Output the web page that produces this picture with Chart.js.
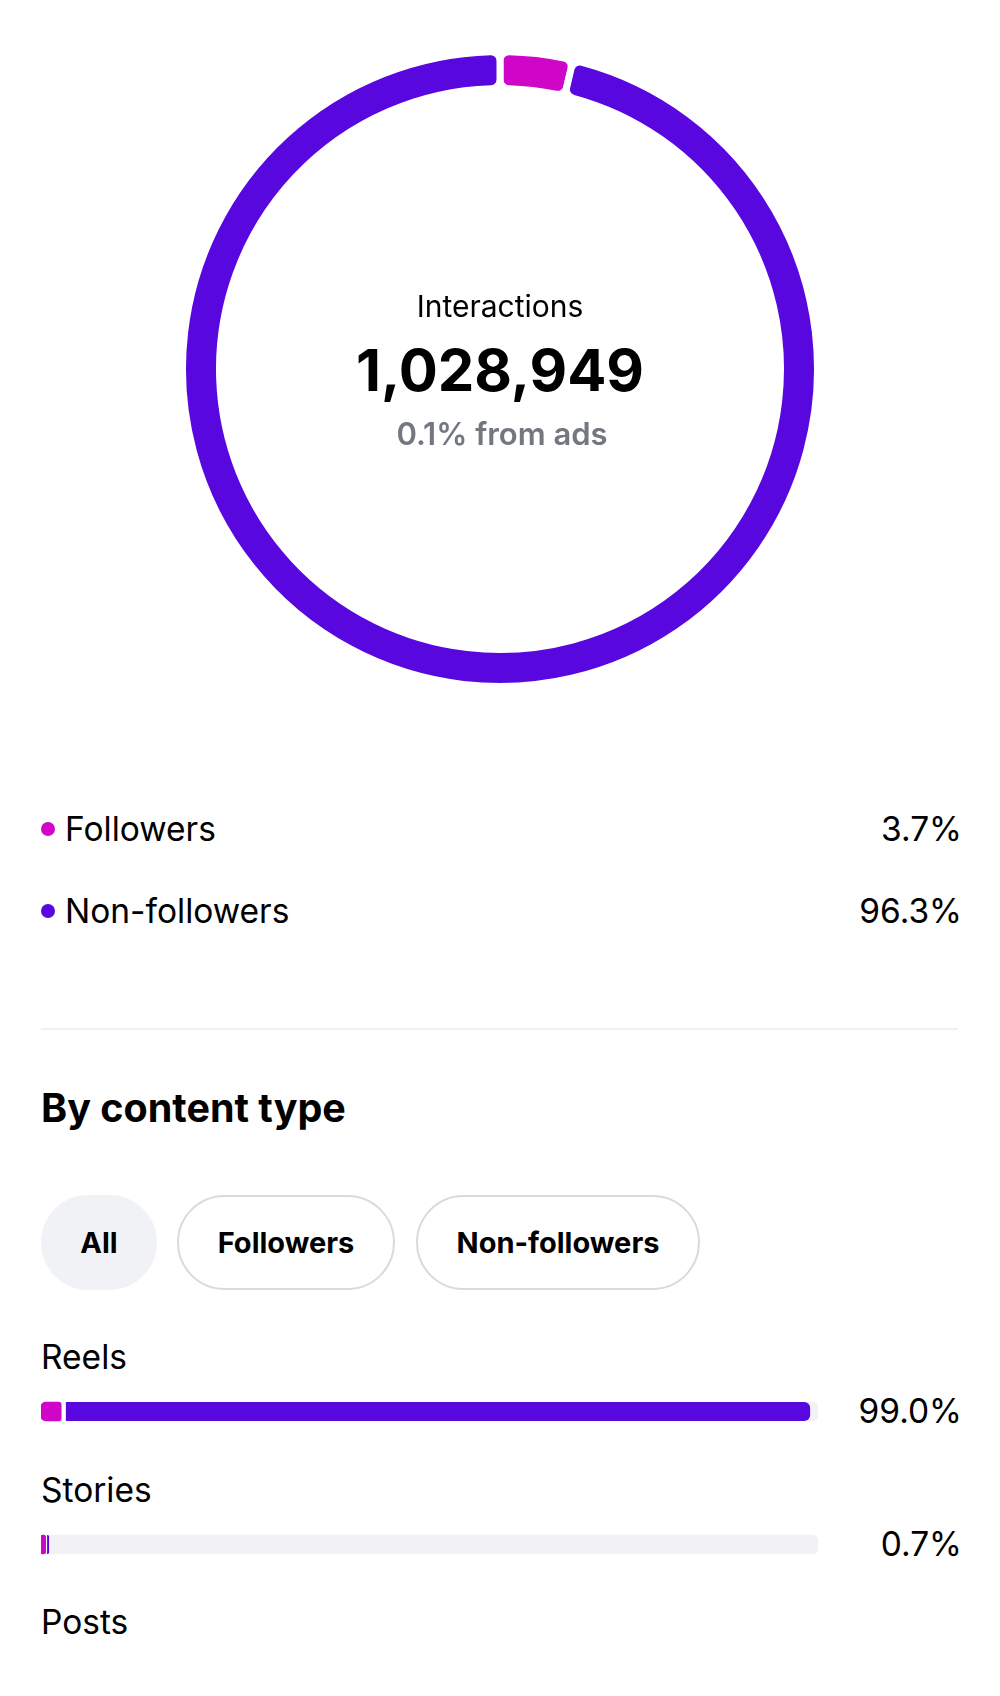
<!DOCTYPE html>
<html>
<head>
<meta charset="utf-8">
<script src="https://cdn.jsdelivr.net/npm/chart.js@4.4.1/dist/chart.umd.min.js"></script>
<style>
  html, body { margin:0; padding:0; background:#fff; }
  body { width:1000px; height:1696px; position:relative; overflow:hidden; font-family:Inter, "Noto Sans", sans-serif; color:#000; }
  .abs { position:absolute; white-space:nowrap; transform:translateY(-50%); }
  .center { left:0; width:1000px; text-align:center; }
  #donut { position:absolute; left:179px; top:48px; }
  #bars { position:absolute; left:41px; top:1345px; }
  .dot { position:absolute; width:14px; height:14px; border-radius:50%; transform:translate(-50%,-50%); }
  .row { font-size:33.5px; }
  .val { right:38px; text-align:right; }
  .divider { position:absolute; left:41px; width:917px; top:1028px; height:2px; background:#f0f0f0; }
  .pill { position:absolute; top:1195px; height:91px; border:2px solid #dadada; border-radius:48px; box-sizing:content-box;
          display:flex; align-items:center; justify-content:center; font-weight:700; font-size:29px; }
  .pill.on { border-color:#f1f2f5; background:#f1f2f5; }
</style>
</head>
<body>
<canvas id="donut" width="642" height="642"></canvas>

<div class="abs center" style="top:306px;font-size:30px;">Interactions</div>
<div class="abs center" style="top:370px;font-size:58px;font-weight:700;">1,028,949</div>
<div class="abs center" style="top:433px;left:2px;font-size:31px;font-weight:600;color:#737780;">0.1% from ads</div>

<div id="legend"></div>

<div class="divider"></div>
<div class="abs" style="left:41px;top:1108px;font-size:39.5px;font-weight:700;">By content type</div>

<div class="pill on" style="left:41px;width:112px;">All</div>
<div class="pill" style="left:177px;width:214px;">Followers</div>
<div class="pill" style="left:416px;width:280px;">Non-followers</div>

<div id="rowLabels"></div>
<canvas id="bars" width="777" height="266"></canvas>

<script>
/* ===== Data ===== */
const audience = ['Followers', 'Non-followers'];
const audienceShare = [3.7, 96.3];

const contentTypes = ['Reels', 'Stories'];
const followersByType = [2.6, 0.6];
const nonFollowersByType = [96.4, 0.45];
const typeTotals = ['99.0%', '0.7%'];
const trackFull = [100, 100];

const MAGENTA = '#CF06C7';
const PURPLE = '#5808DF';

/* ===== Legend rows ===== */
const legend = document.getElementById('legend');
const legendY = [829, 911];
const legendColors = [MAGENTA, PURPLE];
audience.forEach((name, i) => {
  legend.insertAdjacentHTML('beforeend',
    `<div class="dot" style="left:48px;top:${legendY[i]}px;background:${legendColors[i]}"></div>` +
    `<div class="abs row" style="left:65px;top:${legendY[i]}px">${name}</div>` +
    `<div class="abs row val" style="top:${legendY[i]}px">${audienceShare[i].toFixed(1)}%</div>`);
});

/* ===== Donut (white border = even gaps between arcs) ===== */
new Chart(document.getElementById('donut'), {
  type: 'doughnut',
  data: {
    labels: audience,
    datasets: [{
      data: audienceShare,
      backgroundColor: [MAGENTA, PURPLE],
      borderColor: '#fff',
      borderWidth: 7, hoverBorderWidth: 7,
      borderRadius: 9
    }]
  },
  options: {
    responsive: false, animation: false,
    cutout: 280.5, rotation: 0,
    plugins: { legend: { display: false }, tooltip: { enabled: false } },
    events: []
  }
});

/* ===== Content type labels ===== */
const rowLabels = document.getElementById('rowLabels');
const labelY = [1357, 1490];
const barY = [1411, 1544];
contentTypes.forEach((t, i) => {
  rowLabels.insertAdjacentHTML('beforeend',
    `<div class="abs row" style="left:41px;top:${labelY[i]}px">${t}</div>` +
    `<div class="abs row val" style="top:${barY[i]}px">${typeTotals[i]}</div>`);
});
rowLabels.insertAdjacentHTML('beforeend', `<div class="abs row" style="left:41px;top:1622px">Posts</div>`);

/* ===== Stacked bars ===== */
new Chart(document.getElementById('bars'), {
  type: 'bar',
  data: {
    labels: contentTypes,
    datasets: [
      { label: 'Followers', data: followersByType, stack: 'fg', order: 0,
        backgroundColor: MAGENTA, borderWidth: 0, borderSkipped: false,
        borderRadius: { topLeft: 5, bottomLeft: 5, topRight: 3, bottomRight: 3 } },
      { label: 'Non-followers', data: nonFollowersByType, stack: 'fg', order: 0,
        backgroundColor: PURPLE, borderColor: '#fff', borderSkipped: false,
        borderWidth: [{ left: 5, top: 0, right: 0, bottom: 0 }, { left: 2, top: 0, right: 0, bottom: 0 }],
        borderRadius: { topLeft: 2, bottomLeft: 2, topRight: 6, bottomRight: 6 } },
      { label: 'track', data: trackFull, stack: 'track', order: 10,
        backgroundColor: '#f2f2f6', borderWidth: 0, borderSkipped: false, borderRadius: 6 }
    ]
  },
  options: {
    indexAxis: 'y', responsive: false, animation: false,
    datasets: { bar: { grouped: false, barThickness: 19 } },
    layout: { padding: 0 },
    scales: {
      x: { display: false, stacked: true, min: 0, max: 100 },
      y: { display: false, stacked: true }
    },
    plugins: { legend: { display: false }, tooltip: { enabled: false } },
    events: []
  }
});
</script>
</body>
</html>
